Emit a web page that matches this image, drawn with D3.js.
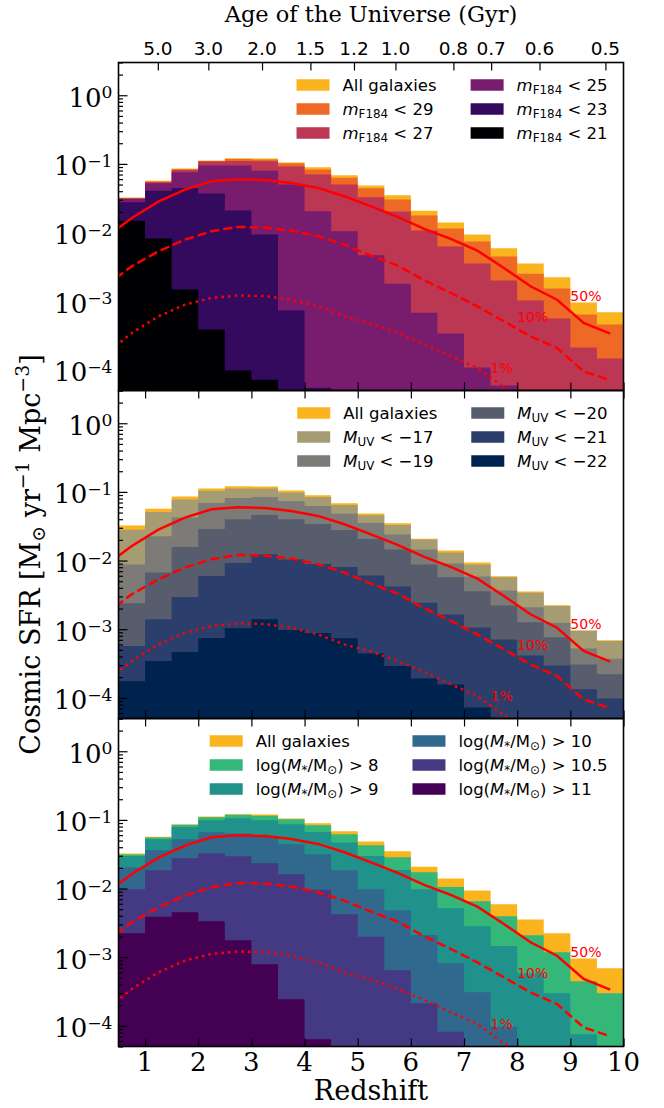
<!DOCTYPE html>
<html>
<head>
<meta charset="utf-8">
<script src="https://cdn.jsdelivr.net/npm/d3@7"></script>
<style>
  body { margin: 0; background: #fff; }
  svg { display: block; }
  text { white-space: pre; }
</style>
</head>
<body>
<svg id="chart" width="664" height="1108"></svg>
<script>
// ---- data ----
var zEdges = [0.5, 1.0, 1.5, 2.0, 2.5, 3.0, 3.5, 4.0, 4.5, 5.0, 5.5, 6.0, 6.5, 7.0, 7.5, 8.0, 8.5, 9.0, 9.5, 10.0];
var zMid = [0.25, 0.75, 1.25, 1.75, 2.25, 2.75, 3.25, 3.75, 4.25, 4.75, 5.25, 5.75, 6.25, 6.75, 7.25, 7.75, 8.25, 8.75, 9.25, 9.75];

var allGalaxies = [0.0325, 0.057, 0.0857, 0.1124, 0.121, 0.1195, 0.105, 0.089, 0.0683, 0.0486, 0.0348, 0.0208, 0.014, 0.0094, 0.0059, 0.00354, 0.00223, 0.00096, 0.00069];

// panel 1: apparent magnitude cuts
var mF29 = [0.0319, 0.0552, 0.0835, 0.110, 0.118, 0.1156, 0.102, 0.0826, 0.0631, 0.0442, 0.0302, 0.0177, 0.01143, 0.00738, 0.00447, 0.00252, 0.00153, 0.00064, 0.000456];
var mF27 = [0.0316, 0.054, 0.0817, 0.108, 0.110, 0.109, 0.0913, 0.0698, 0.0499, 0.0327, 0.0202, 0.01067, 0.00624, 0.00353, 0.0020, 0.00102, 0.000558, 0.000211, 0.000146];
var mF25 = [0.0309, 0.0522, 0.0755, 0.0944, 0.0944, 0.0798, 0.0499, 0.0204, 0.01044, 0.00467, 0.0018, 0.00068, 0.000337, 0.000108, 0.000059, 0, 0, 0, 0];
var mF23 = [0.0276, 0.0408, 0.0447, 0.0369, 0.0209, 0.00933, 0.00073, 0.000055, 0, 0, 0, 0, 0, 0, 0, 0, 0, 0, 0];
var mF21 = [0.0149, 0.00817, 0.00148, 0.000386, 0.0000975, 0.000072, 0, 0, 0, 0, 0, 0, 0, 0, 0, 0, 0, 0, 0];

// panel 2: UV magnitude cuts
var mUV17 = [0.0281, 0.0508, 0.0778, 0.104, 0.1124, 0.112, 0.0983, 0.0841, 0.0643, 0.0455, 0.0329, 0.0203, 0.0131, 0.00879, 0.00569, 0.0034, 0.00217, 0.00095, 0.000671];
var mUV19 = [0.00879, 0.0225, 0.0425, 0.0688, 0.0813, 0.0841, 0.0735, 0.0622, 0.0481, 0.0352, 0.024, 0.0145, 0.00908, 0.00588, 0.00367, 0.00208, 0.00124, 0.000525, 0.000372];
var mUV20 = [0.00238, 0.00672, 0.0157, 0.0288, 0.0398, 0.046, 0.0398, 0.034, 0.0278, 0.0206, 0.0145, 0.00879, 0.00569, 0.00356, 0.00222, 0.00126, 0.00076, 0.000307, 0.00022];
var mUV21 = [0.000568, 0.00139, 0.00294, 0.00594, 0.00919, 0.0124, 0.0104, 0.0089, 0.00804, 0.00608, 0.0042, 0.00243, 0.00164, 0.00106, 0.00071, 0.000415, 0.000297, 0.000133, 0.000098];
var mUV22 = [0.000175, 0.000343, 0.000465, 0.000743, 0.00103, 0.00139, 0.00097, 0.00088, 0.000735, 0.000444, 0.00029, 0.000192, 0.000157, 0.0000726, 0, 0, 0, 0, 0];

// panel 3: stellar mass cuts
var mStar8 = [0.0313, 0.0553, 0.0847, 0.1095, 0.1184, 0.1145, 0.1024, 0.0837, 0.0619, 0.0428, 0.0286, 0.0173, 0.0105, 0.00655, 0.00396, 0.00209, 0.00118, 0.000447, 0.000299];
var mStar9 = [0.0299, 0.0524, 0.0791, 0.099, 0.1059, 0.099, 0.0866, 0.0669, 0.0468, 0.0299, 0.0187, 0.0098, 0.00517, 0.00283, 0.00145, 0.000585, 0.000299, 0.0000755, 0];
var mStar10 = [0.0202, 0.0362, 0.0524, 0.0662, 0.0633, 0.0572, 0.0443, 0.0316, 0.0185, 0.0098, 0.00484, 0.00211, 0.000818, 0.000309, 0.0000966, 0, 0, 0, 0];
var mStar105 = [0.0098, 0.0185, 0.0277, 0.0327, 0.0296, 0.0234, 0.0162, 0.00957, 0.00423, 0.00198, 0.000647, 0.000214, 0.0000817, 0, 0, 0, 0, 0, 0];
var mStar11 = [0.00224, 0.00387, 0.00452, 0.00334, 0.00177, 0.00079, 0.000244, 0.000064, 0, 0, 0, 0, 0, 0, 0, 0, 0, 0, 0];

// completeness curves (same in every panel)
var sfr50 = [0.00835, 0.01633, 0.0282, 0.0422, 0.0558, 0.0597, 0.0584, 0.0528, 0.0447, 0.0338, 0.0241, 0.0169, 0.0113, 0.00807, 0.00546, 0.00305, 0.00165, 0.00105, 0.000482, 0.000337];
var sfr10 = [0.00165, 0.00323, 0.00533, 0.00789, 0.01044, 0.01208, 0.0118, 0.01067, 0.00883, 0.00667, 0.00461, 0.0033, 0.00202, 0.00132, 0.00084, 0.00051, 0.000308, 0.000208, 0.000095, 0.0000705];
var sfr01 = [0.000167, 0.000345, 0.0006, 0.00089, 0.001116, 0.00121, 0.00119, 0.00105, 0.00084, 0.0006, 0.000472, 0.000345, 0.000239, 0.000158, 0.000107, 0.000056, 0.000031, 0.000021, 0.0000095, 0.000007];
var pctLabels = ["50%", "10%", "1%"];
var pctLabelZ = [9.0, 8.0, 7.5];
var pctLabelV = [1e-3, 5e-4, 9e-5];

var redshiftTicks = [1, 2, 3, 4, 5, 6, 7, 8, 9, 10];
var ageLabels = ["5.0", "3.0", "2.0", "1.5", "1.2", "1.0", "0.8", "0.7", "0.6", "0.5"];
var ageZ = [1.24, 2.19, 3.20, 4.11, 4.93, 5.71, 6.80, 7.51, 8.42, 9.66];
var yMajor = [1, 1e-1, 1e-2, 1e-3, 1e-4];
var yDomain = [5e-5, 3];

var labels1 = [
  [["All galaxies"]],
  [["m", "i"], ["F184", "sub"], [" < 29"]],
  [["m", "i"], ["F184", "sub"], [" < 27"]],
  [["m", "i"], ["F184", "sub"], [" < 25"]],
  [["m", "i"], ["F184", "sub"], [" < 23"]],
  [["m", "i"], ["F184", "sub"], [" < 21"]]
];
var labels2 = [
  [["All galaxies"]],
  [["M", "i"], ["UV", "sub"], [" < \u221217"]],
  [["M", "i"], ["UV", "sub"], [" < \u221219"]],
  [["M", "i"], ["UV", "sub"], [" < \u221220"]],
  [["M", "i"], ["UV", "sub"], [" < \u221221"]],
  [["M", "i"], ["UV", "sub"], [" < \u221222"]]
];
var labels3 = [
  [["All galaxies"]],
  [["log("], ["M", "i"], ["*", "sub"], ["/M"], ["\u2299", "sub"], [") > 8"]],
  [["log("], ["M", "i"], ["*", "sub"], ["/M"], ["\u2299", "sub"], [") > 9"]],
  [["log("], ["M", "i"], ["*", "sub"], ["/M"], ["\u2299", "sub"], [") > 10"]],
  [["log("], ["M", "i"], ["*", "sub"], ["/M"], ["\u2299", "sub"], [") > 10.5"]],
  [["log("], ["M", "i"], ["*", "sub"], ["/M"], ["\u2299", "sub"], [") > 11"]]
];

var colors1 = ["#fbb41d", "#ed6925", "#bb3754", "#781c6d", "#330a5e", "#000004"];
var colors2 = ["#fbb41d", "#a59c74", "#7c7b78", "#575d6d", "#2c3e6b", "#00224e"];
var colors3 = ["#fbb41d", "#35b779", "#21918c", "#31688e", "#443983", "#440154"];

var panels = [
  {series: [allGalaxies, mF29, mF27, mF25, mF23, mF21], colors: colors1, labels: labels1},
  {series: [allGalaxies, mUV17, mUV19, mUV20, mUV21, mUV22], colors: colors2, labels: labels2},
  {series: [allGalaxies, mStar8, mStar9, mStar10, mStar105, mStar11], colors: colors3, labels: labels3}
];

// ---- layout ----
var svg = d3.select("#chart");
var plotLeft = 118.5, plotRight = 623.5;
var firstTop = 62.5, panelH = 328;
var serif = "DejaVu Serif", sans = "DejaVu Sans";

var x = d3.scaleLinear().domain([0.5, 10]).range([plotLeft, plotRight]);

/**
 * Appends mathtext-like tspans (italic, sub, sup) to a text selection
 */
function richText(sel, parts, size, opts) {
  opts = opts || {};
  var subDrop = opts.subDrop !== undefined ? opts.subDrop : size * 0.2;
  var supRise = opts.supRise !== undefined ? opts.supRise : size * 0.42;
  var scale = opts.scale || 0.7;
  var shift = 0;
  parts.forEach(function(p) {
    var kind = p[1] || "n";
    var target = kind === "sub" ? subDrop : (kind === "sup" ? -supRise : 0);
    var ts = sel.append("tspan").attr("dy", target - shift).text(p[0]);
    shift = target;
    if (kind === "sub" || kind === "sup") ts.attr("font-size", size * scale);
    if (kind === "i") ts.attr("font-style", "italic");
  });
}

function drawLegend(g, top, labels, colors) {
  var fs = 16.5, handleW = 33, handleH = 11.5, pad = 13, colGap = 34, rowH = 24;
  var rows = Math.ceil(labels.length / 2);
  var items = labels.map(function(lab, i) {
    var t = g.append("text")
      .attr("font-family", sans)
      .attr("font-size", fs)
      .attr("fill", "#000");
    richText(t, lab, fs, {subDrop: 3.5, scale: 0.72});
    return {t: t, w: t.node().getComputedTextLength(), col: Math.floor(i / rows), row: i % rows, color: colors[i]};
  });
  var w1 = d3.max(items.filter(function(d) { return d.col === 0; }), function(d) { return d.w; });
  var w2 = d3.max(items.filter(function(d) { return d.col === 1; }), function(d) { return d.w; });
  var col2Text = plotRight - 16 - w2;
  var col2Patch = col2Text - pad - handleW;
  var col1Text = col2Patch - colGap - w1;
  var col1Patch = col1Text - pad - handleW;
  items.forEach(function(d) {
    var cy = top + 22.5 + d.row * rowH;
    var px = d.col === 0 ? col1Patch : col2Patch;
    var tx = d.col === 0 ? col1Text : col2Text;
    g.insert("rect", "text")
      .attr("x", px).attr("y", cy - handleH / 2)
      .attr("width", handleW).attr("height", handleH)
      .attr("fill", d.color);
    d.t.attr("x", tx).attr("y", cy + 5.5);
  });
}

panels.forEach(function(p, pi) {
  var top = firstTop + pi * panelH;
  var bottom = top + panelH;
  var y = d3.scaleLog().domain(yDomain).range([bottom, top]).clamp(true);
  var yLine = y.copy().clamp(false);

  var g = svg.append("g");
  var clipId = "clip" + pi;
  g.append("clipPath").attr("id", clipId)
    .append("rect")
    .attr("x", plotLeft).attr("y", top)
    .attr("width", plotRight - plotLeft).attr("height", panelH);

  var body = g.append("g").attr("clip-path", "url(#" + clipId + ")");

  // step-filled histograms, biggest first
  var area = d3.area()
    .x(function(d) { return x(d[0]); })
    .y0(bottom)
    .y1(function(d) { return d[1] > 0 ? y(d[1]) : bottom; });

  p.series.forEach(function(vals, si) {
    var pts = [];
    vals.forEach(function(v, i) {
      pts.push([zEdges[i], v]);
      pts.push([zEdges[i + 1], v]);
    });
    body.append("path")
      .attr("d", area(pts))
      .attr("fill", p.colors[si]);
  });

  // completeness curves
  var line = d3.line()
    .x(function(d, i) { return x(zMid[i]); })
    .y(function(d) { return yLine(d); });
  var curves = [sfr50, sfr10, sfr01];
  var dashes = [null, "9.25,4", "2.5,4.1"];
  curves.forEach(function(c, ci) {
    body.append("path")
      .attr("d", line(c))
      .attr("fill", "none")
      .attr("stroke", "#ff0000")
      .attr("stroke-width", 2.5)
      .attr("stroke-dasharray", dashes[ci]);
  });
  pctLabels.forEach(function(t, i) {
    g.append("text")
      .attr("x", x(pctLabelZ[i]))
      .attr("y", yLine(pctLabelV[i]))
      .attr("font-family", sans)
      .attr("font-size", 14)
      .attr("fill", "#ff0000")
      .text(t);
  });

  // ticks
  var minor = y.ticks().filter(function(v) {
    return yMajor.indexOf(v) < 0 && v >= yDomain[0] && v <= yDomain[1];
  });
  var axG = g.append("g").attr("color", "#000");
  axG.append("g")
    .attr("transform", "translate(" + plotLeft + ",0)")
    .call(d3.axisLeft(y).tickValues(yMajor).tickSize(-9).tickFormat(""));
  axG.append("g")
    .attr("transform", "translate(" + plotLeft + ",0)")
    .call(d3.axisLeft(y).tickValues(minor).tickSize(-4.5).tickFormat(""));
  axG.append("g")
    .attr("transform", "translate(0," + bottom + ")")
    .call(d3.axisBottom(x).tickValues(redshiftTicks).tickSize(-8).tickFormat(""));
  if (pi === 0) {
    axG.append("g")
      .attr("transform", "translate(0," + top + ")")
      .call(d3.axisTop(x).tickValues(ageZ).tickSize(-8).tickFormat(""));
  } else {
    axG.append("g")
      .attr("transform", "translate(0," + top + ")")
      .call(d3.axisTop(x).tickValues(redshiftTicks).tickSize(-8).tickFormat(""));
  }
  axG.selectAll(".domain").remove();
  axG.selectAll(".tick line").attr("stroke-width", 1.2);

  // y tick labels 10^k
  yMajor.forEach(function(v) {
    var k = Math.round(Math.log10(v));
    var t = g.append("text")
      .attr("x", plotLeft - 6)
      .attr("y", y(v) + 11.5)
      .attr("text-anchor", "end")
      .attr("font-family", serif)
      .attr("font-size", 26)
      .attr("fill", "#000");
    richText(t, [["10"], [(k < 0 ? "\u2212" : "") + Math.abs(k), "sup"]], 26, {supRise: 8.5, scale: 0.66});
  });

  // frame
  g.append("rect")
    .attr("x", plotLeft).attr("y", top)
    .attr("width", plotRight - plotLeft).attr("height", panelH)
    .attr("fill", "none")
    .attr("stroke", "#000")
    .attr("stroke-width", 1.6);

  drawLegend(g.append("g"), top, p.labels, p.colors);

  if (pi === 0) {
    ageZ.forEach(function(z, i) {
      g.append("text")
        .attr("x", x(z)).attr("y", 55)
        .attr("text-anchor", "middle")
        .attr("font-family", sans)
        .attr("font-size", 18.5)
        .text(ageLabels[i]);
    });
  }
  if (pi === panels.length - 1) {
    redshiftTicks.forEach(function(z) {
      g.append("text")
        .attr("x", x(z)).attr("y", bottom + 24)
        .attr("text-anchor", "middle")
        .attr("font-family", serif)
        .attr("font-size", 26)
        .text(z);
    });
  }
});

// axis titles
svg.append("text")
  .attr("x", (plotLeft + plotRight) / 2).attr("y", 22)
  .attr("text-anchor", "middle")
  .attr("font-family", serif)
  .attr("font-size", 22.5)
  .text("Age of the Universe (Gyr)");

svg.append("text")
  .attr("x", (plotLeft + plotRight) / 2).attr("y", 1100)
  .attr("text-anchor", "middle")
  .attr("font-family", serif)
  .attr("font-size", 27)
  .text("Redshift");

var yTitle = svg.append("text")
  .attr("transform", "translate(40," + (firstTop + 1.5 * panelH) + ") rotate(-90)")
  .attr("text-anchor", "middle")
  .attr("font-family", serif)
  .attr("font-size", 27);
richText(yTitle, [["Cosmic SFR [M"], ["\u2299", "sub"], [" yr"], ["\u22121", "sup"], [" Mpc"], ["\u22123", "sup"], ["]"]], 27, {subDrop: 5, supRise: 11});
</script>
</body>
</html>
